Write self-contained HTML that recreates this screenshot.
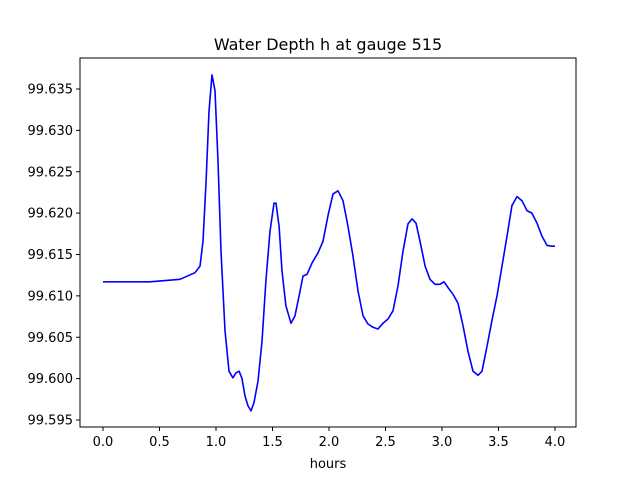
<!DOCTYPE html>
<html><head><meta charset="utf-8"><style>
html,body{margin:0;padding:0;background:#fff;}
svg{display:block;font-family:"DejaVu Sans","Liberation Sans",sans-serif;}
</style></head><body>
<svg id="chart" width="640" height="480">
<rect width="640" height="480" fill="#fff"/>
<text x="328" y="50" font-size="16" text-anchor="middle">Water Depth h at gauge 515</text>
<g id="plot"></g>
<rect x="80" y="58" width="496" height="369" fill="none" stroke="#000" stroke-width="1"/>
<text x="328" y="468" font-size="13" text-anchor="middle">hours</text>
</svg>
<script>
const times=[0,0.416,0.681,0.814,0.858,0.885,0.912,0.938,0.965,0.991,1.018,1.044,1.080,1.115,1.150,1.177,1.204,1.230,1.257,1.283,1.310,1.336,1.372,1.407,1.442,1.478,1.513,1.531,1.558,1.584,1.619,1.664,1.699,1.735,1.770,1.805,1.850,1.903,1.947,1.991,2.035,2.080,2.124,2.168,2.212,2.257,2.301,2.345,2.389,2.434,2.478,2.522,2.566,2.611,2.655,2.699,2.735,2.770,2.805,2.850,2.894,2.938,2.982,3.018,3.053,3.097,3.142,3.186,3.230,3.274,3.319,3.354,3.398,3.442,3.487,3.531,3.575,3.619,3.664,3.708,3.752,3.796,3.841,3.885,3.929,3.973,4.0];
const depths=[99.6117,99.6117,99.6120,99.6128,99.6136,99.6166,99.6239,99.6323,99.6367,99.6348,99.6263,99.6154,99.6058,99.6009,99.6001,99.6007,99.6009,99.6000,99.5979,99.5967,99.5961,99.5971,99.5997,99.6045,99.6118,99.6178,99.6212,99.6212,99.6184,99.6130,99.6088,99.6067,99.6076,99.6100,99.6124,99.6126,99.6140,99.6152,99.6166,99.6197,99.6223,99.6227,99.6215,99.6184,99.6148,99.6106,99.6076,99.6066,99.6062,99.6060,99.6067,99.6072,99.6082,99.6112,99.6154,99.6187,99.6193,99.6188,99.6166,99.6136,99.6120,99.6114,99.6114,99.6117,99.6110,99.6102,99.6091,99.6064,99.6033,99.6009,99.6004,99.6009,99.6039,99.6070,99.6100,99.6136,99.6172,99.6209,99.6220,99.6215,99.6203,99.6200,99.6188,99.6172,99.6161,99.6160,99.6160];
const xTicks=[0,0.5,1,1.5,2,2.5,3,3.5,4];
const xTickLabels=["0.0","0.5","1.0","1.5","2.0","2.5","3.0","3.5","4.0"];
const yTicks=[99.595,99.600,99.605,99.610,99.615,99.620,99.625,99.630,99.635];
const yTickLabels=["99.595","99.600","99.605","99.610","99.615","99.620","99.625","99.630","99.635"];
const ns="http://www.w3.org/2000/svg";
const g=document.getElementById('plot');
function xs(t){return 103+(t-0)*113;}
function ys(v){return 420-(v-99.595)*8275;}
function mk(tag,attrs){const e=document.createElementNS(ns,tag);for(const k in attrs)e.setAttribute(k,attrs[k]);g.appendChild(e);return e;}
xTicks.forEach((t,i)=>{
  const l=mk('line',{x1:xs(t),x2:xs(t),y1:427,y2:431,stroke:'#000'});
  
  
  const tx=mk('text',{x:xs(t),y:446,'font-size':13,'text-anchor':'middle'});
  tx.textContent=xTickLabels[i];
  
  
});
yTicks.forEach((v,i)=>{
  const l=mk('line',{x1:76,x2:80,y1:ys(v),y2:ys(v),stroke:'#000'});
  
  
  const tx=mk('text',{x:73,y:ys(v)+4.5,'font-size':13,'text-anchor':'end'});
  tx.textContent=yTickLabels[i];
  
  
});
const pts=times.map((t,i)=>xs(t).toFixed(1)+','+ys(depths[i]).toFixed(1)).join(' ');
const line=mk('polyline',{points:pts,fill:'none',stroke:'#0000ff','stroke-width':1.6,'stroke-linejoin':'round'});


</script>
</body></html>
